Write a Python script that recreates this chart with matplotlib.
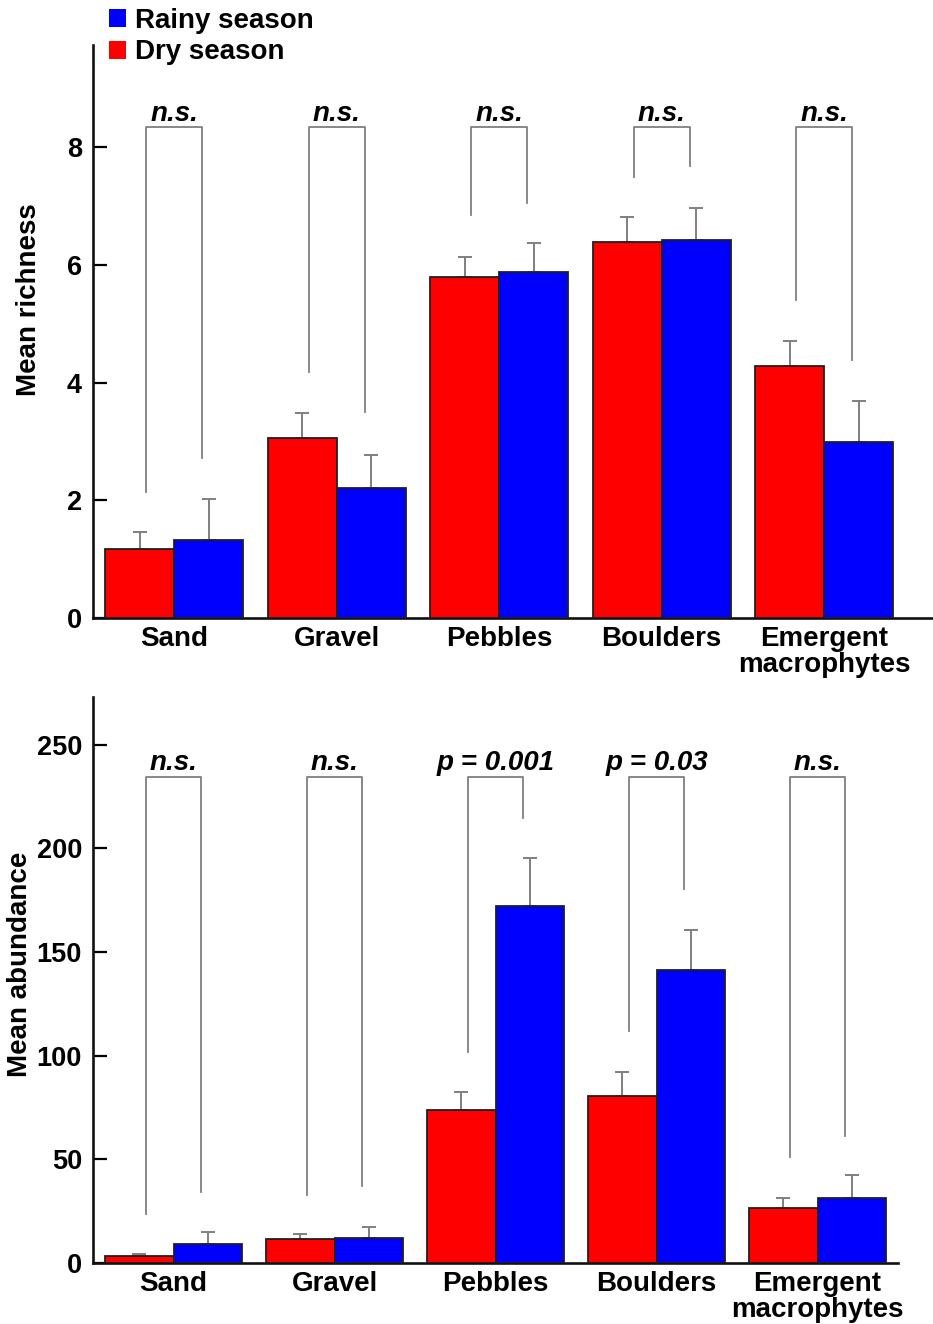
import matplotlib
matplotlib.use("Agg")
import matplotlib.pyplot as plt
from matplotlib.patches import Patch
import numpy as np

plt.rcParams['font.family'] = ['Liberation Sans', 'DejaVu Sans']

habitats = ["Sand", "Gravel", "Pebbles", "Boulders", "Emergent\nmacrophytes"]

# Richness
rich_dry = [1.18, 3.06, 5.80, 6.40, 4.29]
rich_dry_err = [0.28, 0.43, 0.34, 0.41, 0.42]
rich_rainy = [1.33, 2.21, 5.88, 6.43, 2.99]
rich_rainy_err = [0.70, 0.56, 0.50, 0.54, 0.70]
rich_bracket_top = 8.35
rich_left_leg = [2.14, 4.18, 6.85, 7.50, 5.41]
rich_right_leg = [2.72, 3.50, 7.06, 7.68, 4.39]
rich_labels = ["n.s.", "n.s.", "n.s.", "n.s.", "n.s."]

# Abundance
abun_dry = [3.2, 11.4, 74.0, 80.5, 26.3]
abun_dry_err = [1.0, 2.4, 8.4, 11.8, 5.0]
abun_rainy = [9.2, 12.1, 172.2, 141.5, 31.5]
abun_rainy_err = [5.6, 5.3, 23.3, 19.3, 10.7]
abun_bracket_top = 234.5
abun_left_leg = [23.4, 33.0, 101.7, 111.8, 51.3]
abun_right_leg = [34.1, 37.0, 214.6, 180.4, 61.0]
abun_labels = ["n.s.", "n.s.", "p = 0.001", "p = 0.03", "n.s."]

DRY = "#ff0000"
RAINY = "#0000ff"
GRAY = "#7f7f7f"

fig = plt.figure(figsize=(9.33, 13.24), dpi=100)
ax1 = fig.add_axes([0.0997, 0.5332, 0.9003, 0.4328])
ax2 = fig.add_axes([0.0997, 0.0461, 0.8628, 0.4275])

def draw(ax, dry, dry_err, rainy, rainy_err, top, lleg, rleg, labels, ylim, yticks, xlim,
         ylabel, lab_off):
    x = np.arange(len(habitats))
    w = 0.425
    bw = 0.172
    ax.bar(x - w/2, dry, w, color=DRY, edgecolor="#202020", linewidth=1.3, zorder=3)
    ax.bar(x + w/2, rainy, w, color=RAINY, edgecolor="#202020", linewidth=1.3, zorder=3)
    ax.errorbar(x - w/2, dry, yerr=[np.zeros(len(dry)), dry_err], fmt="none",
                ecolor=GRAY, elinewidth=1.4, capsize=5, capthick=1.4, zorder=2)
    ax.errorbar(x + w/2, rainy, yerr=[np.zeros(len(rainy)), rainy_err], fmt="none",
                ecolor=GRAY, elinewidth=1.4, capsize=5, capthick=1.4, zorder=2)
    for i in range(len(x)):
        ax.plot([x[i] - bw, x[i] - bw, x[i] + bw, x[i] + bw],
                [lleg[i], top, top, rleg[i]], color=GRAY, lw=1.3, zorder=1)
        ax.text(x[i], top + lab_off, labels[i], ha="center", va="baseline",
                fontsize=20, fontweight="bold", fontstyle="italic")
    ax.set_ylim(*ylim)
    ax.set_xlim(*xlim)
    ax.set_yticks(yticks)
    ax.set_xticks(x)
    ax.set_xticklabels(habitats, fontsize=20, fontweight="bold", linespacing=0.98)
    for t in ax.get_yticklabels():
        t.set_fontsize(19.5)
        t.set_fontweight("bold")
    ax.tick_params(axis="y", direction="in", length=10, width=1.6, pad=8)
    ax.tick_params(axis="x", length=0, pad=6)
    for s in ["top", "right"]:
        ax.spines[s].set_visible(False)
    for s in ["left", "bottom"]:
        ax.spines[s].set_linewidth(1.9)
        ax.spines[s].set_color("#111111")
    ax.set_ylabel(ylabel, fontsize=20, fontweight="bold")

draw(ax1, rich_dry, rich_dry_err, rich_rainy, rich_rainy_err, rich_bracket_top,
     rich_left_leg, rich_right_leg, rich_labels, (0, 9.74), [0, 2, 4, 6, 8], (-0.5, 4.67),
     "Mean richness", 0.10)
draw(ax2, abun_dry, abun_dry_err, abun_rainy, abun_rainy_err, abun_bracket_top,
     abun_left_leg, abun_right_leg, abun_labels, (0, 273), [0, 50, 100, 150, 200, 250], (-0.5, 4.5),
     "Mean abundance", 3.3)

ax1.yaxis.set_label_coords(-0.061, 0.555)
ax2.yaxis.set_label_coords(-0.0745, 0.528)

handles = [Patch(facecolor=RAINY, edgecolor="none", label="Rainy season"),
           Patch(facecolor=DRY, edgecolor="none", label="Dry season")]
fig.legend(handles=handles, loc="upper left", bbox_to_anchor=(0.117, 0.994),
           frameon=False, prop={"weight": "bold", "size": 20},
           handlelength=0.62, handleheight=0.62, handletextpad=0.3, labelspacing=0.2,
           borderaxespad=0, borderpad=0)

fig.savefig("out.png", dpi=100)
